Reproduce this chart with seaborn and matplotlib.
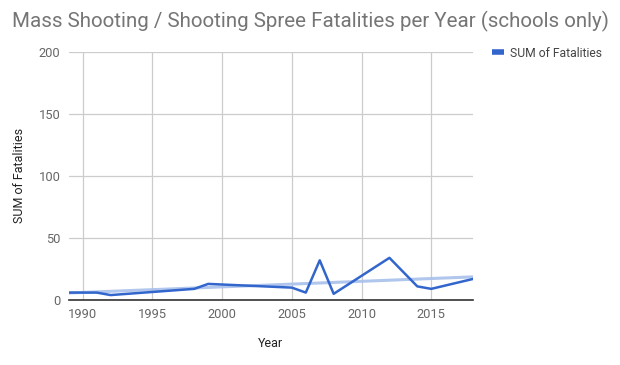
import matplotlib
matplotlib.use("Agg")
import matplotlib.pyplot as plt
import seaborn as sns
import pandas as pd

years = [1989, 1991, 1992, 1998, 1999, 2005, 2006, 2007, 2008, 2012, 2014, 2015, 2018]
fatalities = [6, 6, 4, 9, 13, 10, 6, 32, 5, 34, 11, 9, 17]
x_ticks = [1990, 1995, 2000, 2005, 2010, 2015]
y_ticks = [0, 50, 100, 150, 200]

df = pd.DataFrame({"Year": years, "SUM of Fatalities": fatalities})

sns.set_style("white")
plt.rcParams["font.family"] = ["Roboto", "DejaVu Sans"]

fig = plt.figure(figsize=(6.2, 3.65), dpi=100)
ax = fig.add_axes([0.111, 0.178, 0.652, 0.680])

sns.regplot(data=df, x="Year", y="SUM of Fatalities", scatter=False, ci=None,
            color="#a8c0ea", line_kws={"linewidth": 2.2, "alpha": 0.9}, ax=ax)
sns.lineplot(data=df, x="Year", y="SUM of Fatalities", color="#3366cc",
             linewidth=1.8, ax=ax, label="SUM of Fatalities")

ax.set_xlim(1989, 2018)
ax.set_ylim(0, 200)
ax.set_xticks(x_ticks)
ax.set_yticks(y_ticks)
ax.grid(True, color="#cccccc", linewidth=0.9)
ax.set_axisbelow(True)
for s in ["top", "right", "left"]:
    ax.spines[s].set_visible(False)
ax.spines["bottom"].set_color("#333333")
ax.spines["bottom"].set_linewidth(1.2)
ax.tick_params(axis="both", length=0, labelsize=9.3, labelcolor="#666666", pad=6)

ax.set_xlabel("Year", fontsize=9, color="#222222", labelpad=11)
ax.set_ylabel("SUM of Fatalities", fontsize=9, color="#222222", labelpad=9)

leg = ax.legend(loc="upper left", bbox_to_anchor=(1.02, 1.065), frameon=False,
                fontsize=8.7, handlelength=1.0, handletextpad=0.5)
for t in leg.get_texts():
    t.set_color("#444444")
for h in leg.get_lines():
    h.set_linewidth(4)
    h.set_solid_capstyle("butt")

fig.text(0.019, 0.94, "Mass Shooting / Shooting Spree Fatalities per Year (schools only)",
         fontsize=14.8, color="#757575", ha="left", va="center")

fig.savefig("out.png", dpi=100)
